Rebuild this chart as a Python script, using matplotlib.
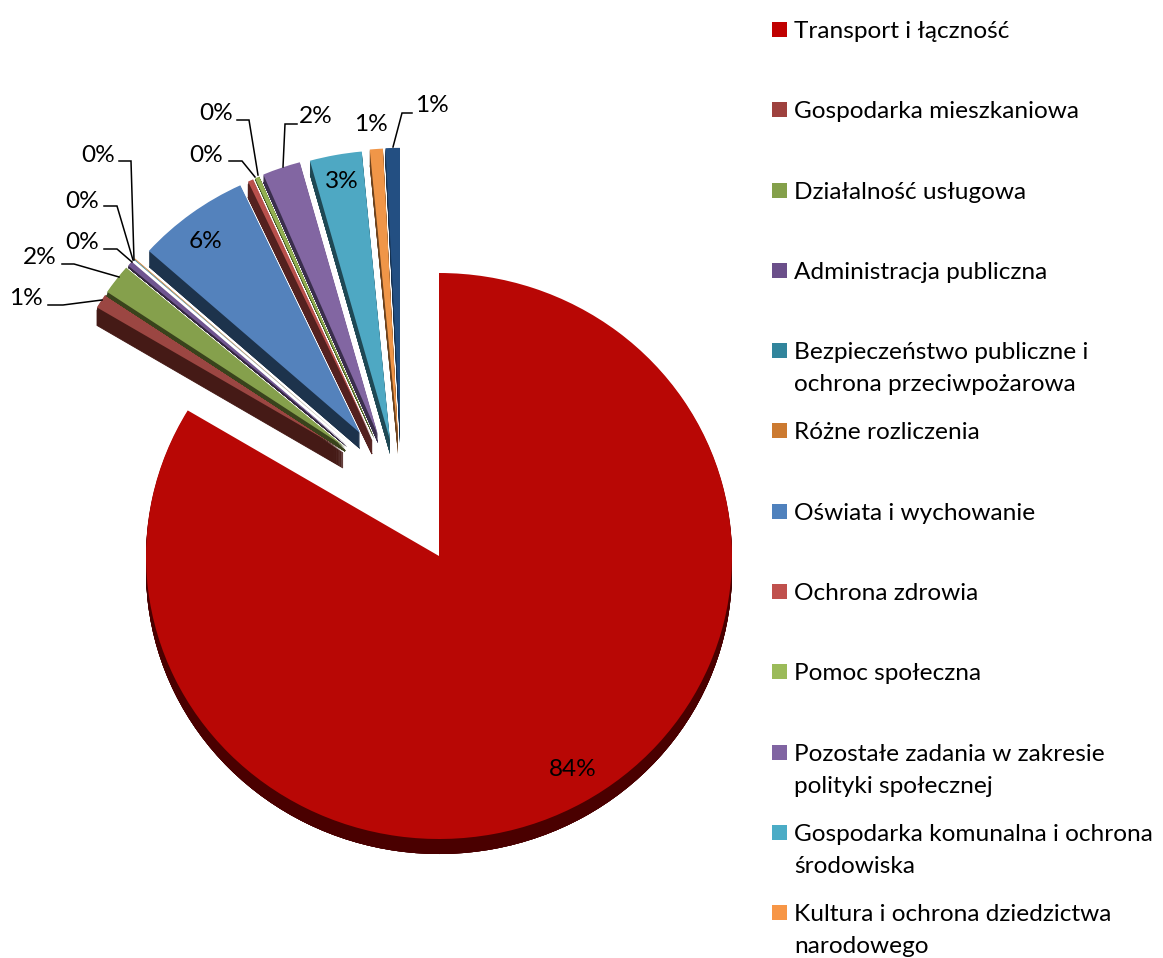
import matplotlib
matplotlib.use('Agg')
import matplotlib.pyplot as plt
from matplotlib.patches import Rectangle

plt.rcParams['font.family'] = ['Lato', 'DejaVu Sans']

#%% data

labels = ['Transport i łączność', 'Gospodarka mieszkaniowa', 'Działalność usługowa',
          'Administracja publiczna', 'Bezpieczeństwo publiczne i\nochrona przeciwpożarowa',
          'Różne rozliczenia', 'Oświata i wychowanie', 'Ochrona zdrowia', 'Pomoc społeczna',
          'Pozostałe zadania w zakresie\npolityki społecznej',
          'Gospodarka komunalna i ochrona\nśrodowiska',
          'Kultura i ochrona dziedzictwa\nnarodowego']

# last slice has its legend entry cut off in the picture
values = [83.6, 0.85, 1.75, 0.3, 0.05, 0.05, 6.45, 0.3, 0.25, 2.1, 2.8, 0.7, 0.8]

#%% styles and positions (pixels of the picture)

top_colors = ['#B80705', '#9B4642', '#85A04C', '#6F5590', '#3A8AA0', '#CC7C34', '#5482BC',
              '#B9504C', '#93B152', '#8266A2', '#4EA8C3', '#F09648', '#234F82']
side_colors = ['#4A0000', '#451A16', '#39431C', '#33273F', '#1D4450', '#5E3817', '#1D334C',
               '#54211F', '#414F22', '#3A2E4C', '#1F4854', '#6B421E', '#14304F']
legend_colors = ['#C00000', '#9E413E', '#84A04A', '#6B4F8A', '#31859C', '#CC7A30', '#4F81BD',
                 '#C0504D', '#9BBB59', '#8064A2', '#4BACC6', '#F79646']

apex = [(439, 556), (343, 450), (345, 447), (347, 445), (349, 443), (349, 443), (360, 433),
        (372, 438), (374, 437), (378, 435), (390, 440), (398, 438), (400, 427)]
radii = [293, 287, 287, 287, 287, 287, 283, 293, 293, 293, 300, 300, 289]
depths = [15, 18, 4, 2, 0, 0, 16, 16, 1, 8, 14, 16, 16]
edged = [1, 2, 7]    # thin slices whose side layers get stripes at the tip

label_pos = [(573, 769), (26, 299), (40, 258), (82, 243), (82, 201), (98, 155), (206, 241),
             (206, 156), (216, 114), (316, 117), (342, 182), (371, 125), (432, 106)]

leaders = [[(48, 305), (63, 305), (102, 300)],
           [(62, 264), (74, 264), (119, 277)],
           [(104, 249), (117, 249), (132, 262)],
           [(104, 206), (117, 206), (133, 260)],
           [(119, 161), (131, 161), (134, 260)],
           [(229, 161), (242, 161), (255, 177)],
           [(237, 120), (249, 120), (258, 175)],
           [(297, 124), (285, 124), (283, 167)],
           [(412, 113), (402, 113), (393, 147)]]

W, H = 1163, 958
k = 283 / 293    # flattening of the pie


def yd(py):
    return (H - py) / k


fig = plt.figure(figsize=(W / 100, H / 100), dpi=100)
ax = fig.add_axes([0, 0, 1, 1])

#%% pie, side stacked from layers and the top face last

for d in list(range(max(depths), 0, -1)) + [0]:
    wedges, _ = ax.pie(values, colors=side_colors if d else top_colors, startangle=90,
                       counterclock=False, radius=293, wedgeprops=dict(linewidth=0))
    for i, w in enumerate(wedges):
        off = min(d, depths[i])
        w.set_radius(radii[i])
        w.set_center((apex[i][0], yd(apex[i][1] + off)))
        w.set_zorder(2 * i + 2 if d else 2 * i + 3)
        if d and off == 0:
            w.set_visible(False)
        if off >= 3 and i in edged:
            w.set_edgecolor(side_colors[i])
            w.set_linewidth(0.6)

ax.set_aspect('auto')
ax.set_xlim(0, W)
ax.set_ylim(0, H / k)
ax.set_axis_off()

#%% leaders and percent labels

for pts in leaders:
    ax.plot([p[0] for p in pts], [yd(p[1]) for p in pts], color='black', lw=1.1, zorder=40,
            solid_joinstyle='miter')

for v, (x, y) in zip(values, label_pos):
    ax.text(x, yd(y), '%d%%' % round(v), fontsize=17.6, ha='center', va='center',
            color='black', zorder=50)

#%% legend by hand, wrapped entries keep the same pitch in the original

for i, lab in enumerate(labels):
    y0 = 29.5 + 80.3 * i
    ax.add_patch(Rectangle((772, yd(y0 + 7.5)), 15, 15 / k, color=legend_colors[i], lw=0, zorder=40))
    for j, line in enumerate(lab.split('\n')):
        ax.text(794, yd(y0 + 8.5 + 32 * j), line, fontsize=17.6, ha='left', va='baseline',
                color='black', zorder=50)

fig.savefig('out.png', dpi=100, facecolor='white')
